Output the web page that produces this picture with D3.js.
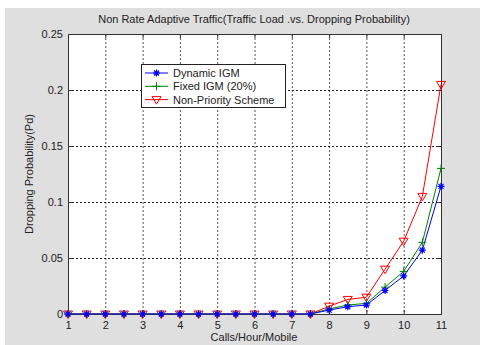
<!DOCTYPE html>
<html><head><meta charset="utf-8">
<script src="https://cdn.jsdelivr.net/npm/d3@7"></script>
<style>body{margin:0;background:#fff}svg{display:block;font-family:"Liberation Sans",Arial,sans-serif}</style>
</head><body>
<script>
const callsPerHour = [1,1.5,2,2.5,3,3.5,4,4.5,5,5.5,6,6.5,7,7.5,8,8.5,9,9.5,10,10.5,11];
const dynamicIGM  = [0,0,0,0,0,0,0,0,0,0,0,0,0,0,0.0035,0.0065,0.008,0.021,0.034,0.057,0.114];
const fixedIGM    = [0,0,0,0,0,0,0,0,0,0,0,0,0,0,0.0045,0.008,0.0095,0.024,0.038,0.064,0.130];
const nonPriority = [0,0,0,0,0,0,0,0,0,0,0,0,0,0,0.007,0.013,0.015,0.040,0.065,0.105,0.205];
const xTicks = [1,2,3,4,5,6,7,8,9,10,11];
const yTicks = [0,0.05,0.1,0.15,0.2,0.25];
const seriesNames = ["Dynamic IGM","Fixed IGM (20%)","Non-Priority Scheme"];
const titleText = "Non Rate Adaptive Traffic(Traffic Load .vs. Dropping Probability)";
const xLabel = "Calls/Hour/Mobile";
const yLabel = "Dropping Probability(Pd)";

const W = 480, H = 345;
const m = {left:68, top:34, right:441, bottom:314};
const svg = d3.select("body").append("svg").attr("width",W).attr("height",H);
svg.append("rect").attr("x",5).attr("y",8).attr("width",W-5).attr("height",H-8).attr("fill","#dfdfdf");
svg.append("rect").attr("x",m.left).attr("y",m.top).attr("width",m.right-m.left).attr("height",m.bottom-m.top).attr("fill","#fff");

const x = d3.scaleLinear().domain([1,11]).range([m.left,m.right]);
const y = d3.scaleLinear().domain([0,0.25]).range([m.bottom,m.top]);

// grid
const g = svg.append("g");
g.selectAll(".vg").data(xTicks.slice(1,-1)).join("line")
  .attr("x1",d=>x(d)+0.5).attr("x2",d=>x(d)+0.5).attr("y1",m.top).attr("y2",m.bottom)
  .attr("stroke","#555").attr("stroke-dasharray","2,2").attr("stroke-width",1);
g.selectAll(".hg").data(yTicks.slice(1,-1)).join("line")
  .attr("y1",d=>Math.round(y(d))+0.5).attr("y2",d=>Math.round(y(d))+0.5).attr("x1",m.left).attr("x2",m.right)
  .attr("stroke","#222").attr("stroke-dasharray","2,2").attr("stroke-width",1);

// axes
const xAxis = d3.axisBottom(x).tickValues(xTicks).tickSize(-4).tickPadding(7).tickFormat(d3.format("d"));
const xa = svg.append("g").attr("transform",`translate(0,${m.bottom})`).call(xAxis);
const yAxis = d3.axisLeft(y).tickValues(yTicks).tickSize(-4).tickPadding(5).tickFormat(d=>d===0?"0":String(d));
const ya = svg.append("g").attr("transform",`translate(${m.left},0)`).call(yAxis);
const xTop = svg.append("g").attr("transform",`translate(0,${m.top})`).call(d3.axisTop(x).tickValues(xTicks).tickSize(-4).tickFormat(""));
const yRight = svg.append("g").attr("transform",`translate(${m.right},0)`).call(d3.axisRight(y).tickValues(yTicks).tickSize(-4).tickFormat(""));
[xa,ya,xTop,yRight].forEach(a=>{
  a.select(".domain").remove();
  a.selectAll("line").attr("stroke","#333");
  a.selectAll("text").attr("font-size",11).attr("fill","#222").attr("font-family","Liberation Sans, Arial, sans-serif");
});
svg.append("rect").attr("x",m.left+0.5).attr("y",m.top+0.5).attr("width",m.right-m.left).attr("height",m.bottom-m.top)
  .attr("fill","none").attr("stroke","#333").attr("stroke-width",1);

// series
const colors = ["#0000ff","#008000","#ff0000"];
const data = [dynamicIGM,fixedIGM,nonPriority];
const line = d3.line().x((d,i)=>x(callsPerHour[i])).y(d=>y(d));
const plot = svg.append("g");
function marker(sel, k, cx, cy){
  const c = colors[k];
  if(k===0){
    const r=3.5;
    sel.append("path").attr("d",`M${cx-r},${cy}H${cx+r}M${cx},${cy-r}V${cy+r}M${cx-2.5},${cy-2.5}L${cx+2.5},${cy+2.5}M${cx-2.5},${cy+2.5}L${cx+2.5},${cy-2.5}`)
      .attr("stroke",c).attr("stroke-width",1.2).attr("fill","none");
  } else if(k===1){
    const r=4;
    sel.append("path").attr("d",`M${cx-r},${cy}H${cx+r}M${cx},${cy-r}V${cy+r}`).attr("stroke",c).attr("stroke-width",1).attr("fill","none");
  } else {
    sel.append("path").attr("d",`M${cx-4.5},${cy-3}L${cx+4.5},${cy-3}L${cx},${cy+4.5}Z`).attr("stroke",c).attr("stroke-width",1).attr("fill","none");
  }
}
[2,1,0].forEach(k=>{
  plot.append("path").datum(data[k]).attr("d",line).attr("fill","none").attr("stroke",colors[k]).attr("stroke-width",1);
});
[2,1,0].forEach(k=>{
  data[k].forEach((v,i)=>marker(plot,k,x(callsPerHour[i]),y(v)));
});

// title & labels
svg.append("text").attr("x",254).attr("y",23).attr("text-anchor","middle").attr("font-size",11).attr("fill","#222").text(titleText);
svg.append("text").attr("x",254).attr("y",341).attr("text-anchor","middle").attr("font-size",11).attr("fill","#222").text(xLabel);
svg.append("text").attr("transform","translate(33,174) rotate(-90)").attr("text-anchor","middle").attr("font-size",11).attr("fill","#222").text(yLabel);

// legend
const lg = svg.append("g");
lg.append("rect").attr("x",141.5).attr("y",64.5).attr("width",144).attr("height",43).attr("fill","#fff").attr("stroke","#222");
seriesNames.forEach((n,k)=>{
  const cy = 73 + k*13.3;
  lg.append("line").attr("x1",145).attr("x2",168).attr("y1",cy).attr("y2",cy).attr("stroke",colors[k]);
  marker(lg,k,156.5,cy);
  lg.append("text").attr("x",173).attr("y",cy+4).attr("font-size",11).attr("fill","#222").text(n);
});
</script>
</body></html>
